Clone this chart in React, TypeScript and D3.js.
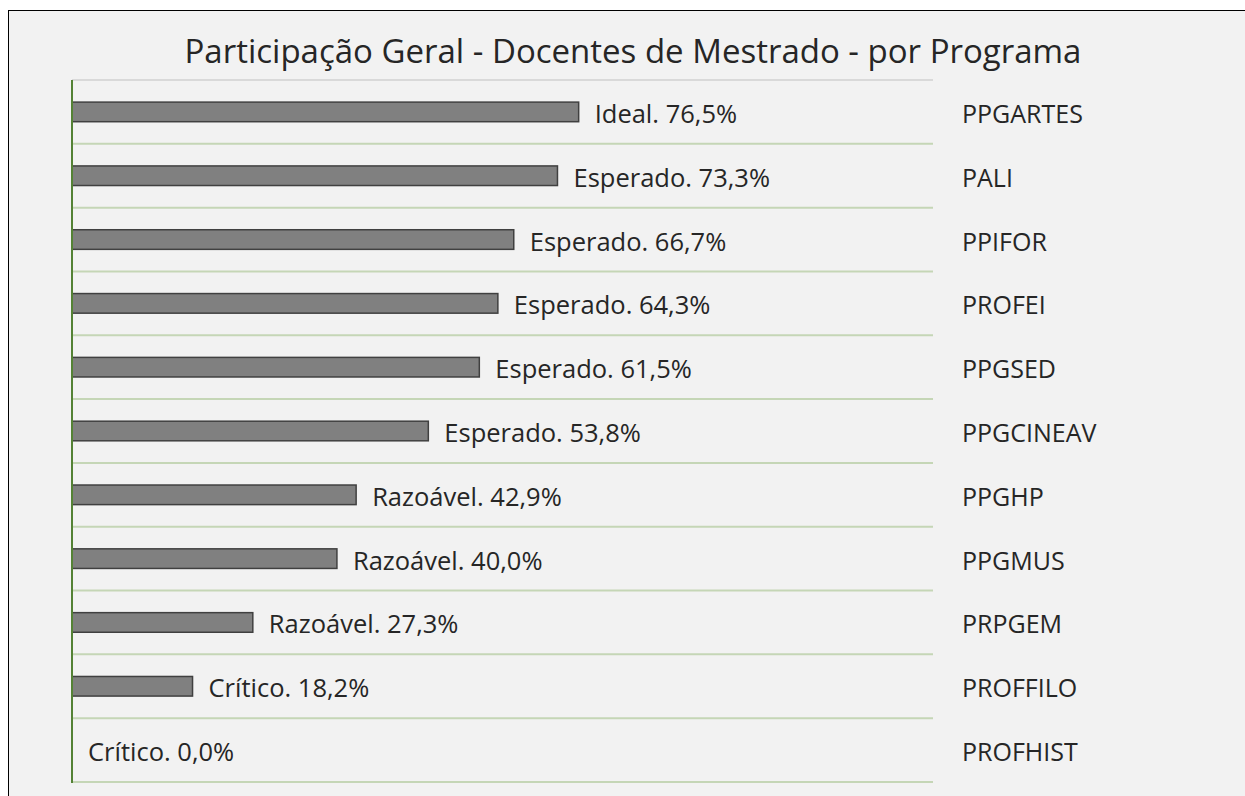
import React from "react";
import * as d3 from "d3";

const categories = ["PPGARTES", "PALI", "PPIFOR", "PROFEI", "PPGSED", "PPGCINEAV", "PPGHP", "PPGMUS", "PRPGEM", "PROFFILO", "PROFHIST"];
const values = [76.5, 73.3, 66.7, 64.3, 61.5, 53.8, 42.9, 40.0, 27.3, 18.2, 0.0];
const levels = ["Ideal", "Esperado", "Esperado", "Esperado", "Esperado", "Esperado", "Razoável", "Razoável", "Razoável", "Crítico", "Crítico"];
const title = "Participação Geral - Docentes de Mestrado - por Programa";

const W = 1245;
const H = 796;
const plotLeft = 72;
const plotRight = 933;
const plotTop = 80;
const plotBottom = 782;
const font = "'Open Sans', 'Noto Sans', sans-serif";

export default function App() {
  const x = d3.scaleLinear().domain([0, 130]).range([plotLeft, plotRight]);
  const y = d3.scaleBand<string>().domain(categories).range([plotTop, plotBottom]).padding(0);
  const bw = y.bandwidth();
  const barH = 19.6;
  const fmt = (v: number) => v.toFixed(1).replace(".", ",") + "%";

  return (
    <svg width={W} height={H} style={{ position: "absolute", left: 0, top: 0, display: "block" }}>
      <rect x={0} y={0} width={W} height={H} fill="#ffffff" />
      <rect x={8.5} y={10.5} width={W + 20} height={H + 20} fill="#f2f2f2" stroke="#000000" strokeWidth={1} />
      <text x={633} y={63} textAnchor="middle" fontFamily={font} fontSize={33} fill="#262626">{title}</text>
      {categories.map((c, i) => (
        <line key={"g" + c} x1={plotLeft} x2={plotRight} y1={y(c) as number} y2={y(c) as number}
          stroke={i === 0 ? "#d9d9d9" : "#c5d6b6"} strokeWidth={2} />
      ))}
      <line x1={plotLeft} x2={plotRight} y1={plotBottom} y2={plotBottom} stroke="#c5d6b6" strokeWidth={2} />
      {categories.map((c, i) => {
        const yc = (y(c) as number) + bw / 2;
        return (
          <g key={c}>
            {values[i] > 0 && (
              <rect x={x(0)} y={yc - barH / 2} width={x(values[i]) - x(0)} height={barH}
                fill="#808080" stroke="#404040" strokeWidth={1.5} />
            )}
            <text x={x(values[i]) + 16} y={yc + 1} dominantBaseline="central" fontFamily={font} fontSize={25.5} fill="#262626">
              {levels[i] + ". " + fmt(values[i])}
            </text>
            <text x={962} y={yc + 1} dominantBaseline="central" fontFamily={font} fontSize={25} fill="#262626">{c}</text>
          </g>
        );
      })}
      <line x1={plotLeft} x2={plotLeft} y1={plotTop} y2={plotBottom + 1} stroke="#548235" strokeWidth={2} />
    </svg>
  );
}
